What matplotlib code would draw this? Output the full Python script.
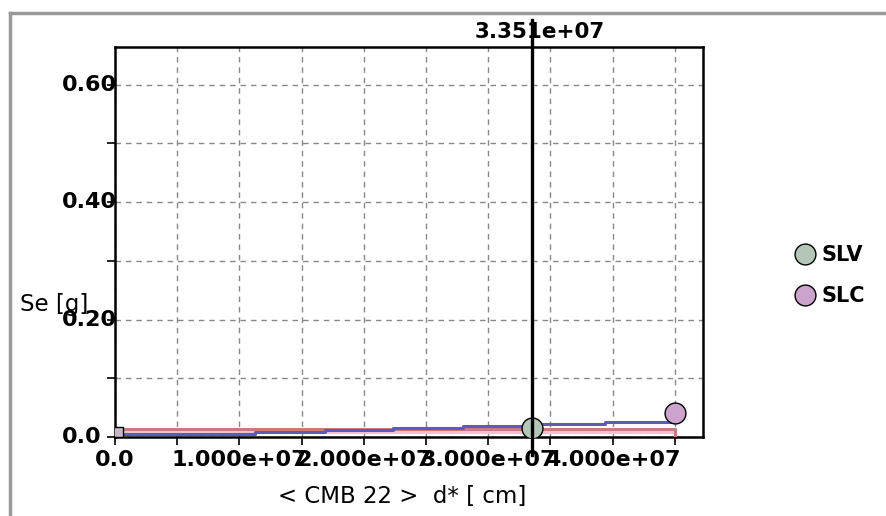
import matplotlib
matplotlib.use("Agg")
import matplotlib.pyplot as plt
from matplotlib.lines import Line2D
from matplotlib.ticker import FixedLocator
from matplotlib.transforms import blended_transform_factory

# curva a gradini (blu) d* [cm] / Se [g]
curve_d = [0.0, 1.125e7, 1.69e7, 2.235e7, 2.8e7, 3.42e7, 3.94e7, 4.5e7]
curve_se = [0.005, 0.0085, 0.012, 0.015, 0.019, 0.022, 0.0255, 0.0255]

# linee di riferimento
salmon_d = [0.0, 4.5e7, 4.5e7]
salmon_se = [0.0135, 0.0135, 0.0]
pink_d = [0.0, 4.5e7]
pink_se = [0.008, 0.008]

# punti
origin_d, origin_se = [0.025e7], [0.008]
slv_d, slv_se = [3.351e7], [0.015]
slc_d, slc_se = [4.5e7], [0.041]
cursor_d = 3.351e7

x_ticks = [0.0, 0.5e7, 1.0e7, 1.5e7, 2.0e7, 2.5e7, 3.0e7, 3.5e7, 4.0e7, 4.5e7]
x_labels = ["0.0", "", "1.000e+07", "", "2.000e+07", "", "3.000e+07", "", "4.000e+07", ""]
y_ticks = [0.0, 0.1, 0.2, 0.3, 0.4, 0.5, 0.6]
y_label_vals = [0.0, 0.2, 0.4, 0.6]
y_label_txt = ["0.0", "0.20", "0.40", "0.60"]

W, H = 887, 516
fig = plt.figure(figsize=(W / 100, H / 100), dpi=100)
ax = fig.add_axes([115 / W, 79 / H, 588 / W, 390 / H])

ax.plot(pink_d, pink_se, color="#f0c4d0", lw=2.2, zorder=3)
ax.plot(salmon_d, salmon_se, color="#c47c80", lw=2.2, zorder=3)
ax.plot(curve_d, curve_se, color="#5a5ac4", lw=2.2, drawstyle="steps-post", zorder=4)
ax.plot(origin_d, origin_se, ls="none", marker="s", ms=7, mfc="#c8b8c8", mec="black", mew=1, zorder=5)
ax.plot(slv_d, slv_se, ls="none", marker="o", ms=15, mfc="#b3c6b8", mec="black", mew=1,
        label="SLV", zorder=6)
ax.plot(slc_d, slc_se, ls="none", marker="o", ms=15, mfc="#cca3cc", mec="black", mew=1,
        label="SLC", zorder=6)

# cursore verticale
ax.axvline(cursor_d, ymin=-0.046, ymax=1.07, color="black", lw=2.4, clip_on=False, zorder=8)
ax.annotate(f"{cursor_d:.3e}", xy=(cursor_d, 1), xycoords=("data", "axes fraction"),
            xytext=(6, 11), textcoords="offset points", ha="center", va="center",
            fontsize=15.5, fontweight="bold", zorder=7, annotation_clip=False)

ax.set_xlim(0, 4.727e7)
ax.set_ylim(0, 0.664)
ax.xaxis.set_major_locator(FixedLocator(x_ticks))
ax.set_xticklabels(x_labels, fontsize=16, fontweight="bold")
ax.yaxis.set_major_locator(FixedLocator(y_ticks))
ax.set_yticklabels([])
ax.tick_params(axis="both", direction="out", length=6, width=1.2, color="black")
ax.tick_params(axis="x", pad=3)
ax.grid(True, ls=(0, (4, 3.5)), color="#888888", lw=1)
for sp in ax.spines.values():
    sp.set_linewidth(1.8)
    sp.set_color("black")

# etichette asse y (tagliate dal riquadro del grafico)
trans = blended_transform_factory(fig.transFigure, ax.transData)
for v, s in zip(y_label_vals, y_label_txt):
    fig.text(62 / W, v, s, transform=trans, ha="left", va="center",
             fontsize=16, fontweight="bold", zorder=-1)

fig.text(20 / W, 1 - 305 / H, "Se [g]", ha="left", va="center", fontsize=16.5)
fig.text(402 / W, 1 - 497 / H, "< CMB 22 >  d* [ cm]", ha="center", va="center", fontsize=16.5)

ax.legend(loc="center left", bbox_to_anchor=(793 / W, 1 - 275.5 / H), bbox_transform=fig.transFigure,
          frameon=False, borderpad=0, borderaxespad=0, handlelength=1.2, handletextpad=0.15,
          labelspacing=1.0, prop={"size": 15, "weight": "bold"})

# cornice della finestra
fig.add_artist(Line2D([10 / W, 10 / W], [0, 1 - 13 / H], color="#999999", lw=2.5,
                      transform=fig.transFigure))
fig.add_artist(Line2D([10 / W, 1], [1 - 13 / H, 1 - 13 / H], color="#999999", lw=2.5,
                      transform=fig.transFigure))

fig.savefig("out.png", dpi=100)
